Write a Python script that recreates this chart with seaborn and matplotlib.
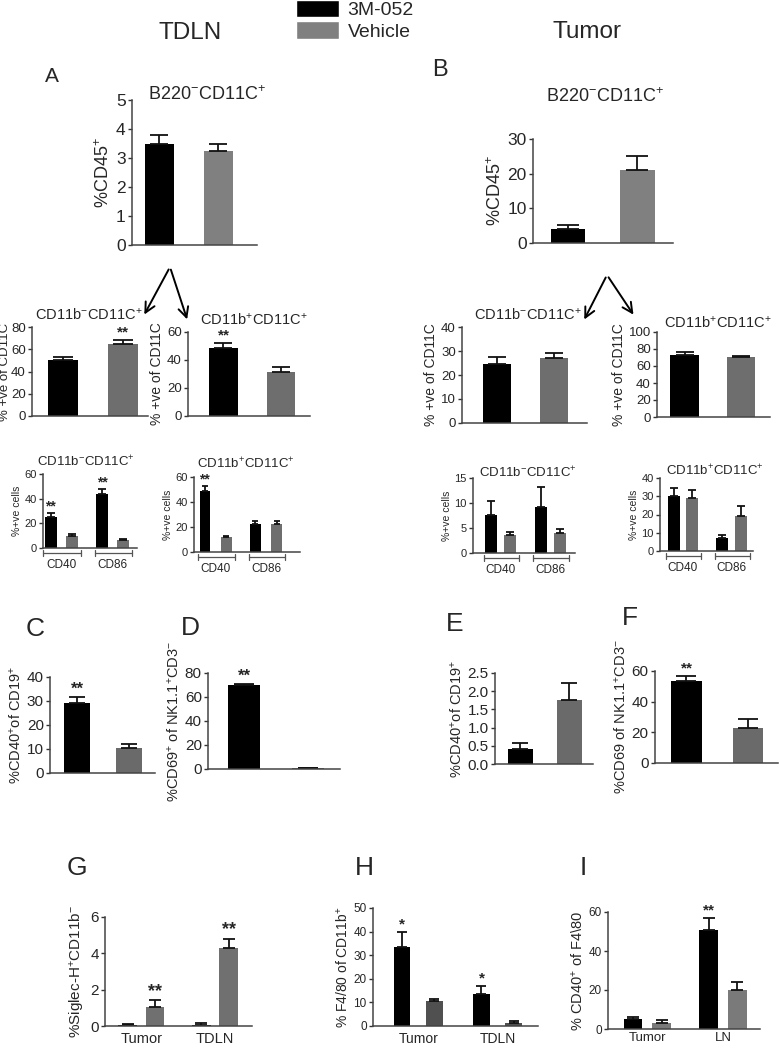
import numpy as np
import pandas as pd
import matplotlib
matplotlib.use('Agg')
import matplotlib.pyplot as plt
import seaborn as sns
from matplotlib.patches import FancyArrowPatch, Patch

W_PX, H_PX = 779, 1050

sns.set_style('ticks')
plt.rcParams['font.family'] = ['Liberation Sans', 'DejaVu Sans']
plt.rcParams['mathtext.fontset'] = 'custom'
plt.rcParams['mathtext.rm'] = 'Liberation Sans'
plt.rcParams['mathtext.it'] = 'Liberation Sans:italic'
plt.rcParams['mathtext.bf'] = 'Liberation Sans:bold'
plt.rcParams['mathtext.default'] = 'regular'

# ---- data (mean, top of SEM bar) ----
treatments = ['3M-052', 'Vehicle']
markers = ['CD40', 'CD86']
sites_h = ['Tumor', 'TDLN']
sites_i = ['Tumor', 'LN']

# A / B : B220-CD11C+ as % of CD45+
a_mean = [3.5, 3.25]
a_top = [3.8, 3.5]
a_star = ['', '']
b_mean = [4.0, 21.0]
b_top = [5.3, 25.0]
b_star = ['', '']

# CD11b-/+ subsets, % of CD11C
a1_mean = [50, 65]
a1_top = [53, 68]
a1_star = ['', '**']
a2_mean = [48.5, 31.5]
a2_top = [52, 35]
a2_star = ['**', '']
b1_mean = [24.5, 27]
b1_top = [27.5, 29.3]
b1_star = ['', '']
b2_mean = [73, 70]
b2_top = [76, 71.5]
b2_star = ['', '']

# CD40 / CD86 expression (%+ve cells)
a3_m3 = [25, 44]
a3_t3 = [28, 47.5]
a3_mv = [10, 6.5]
a3_tv = [11, 7.2]
a3_s3 = ['**', '**']
a3_sv = ['', '']
a4_m3 = [49, 22.5]
a4_t3 = [52.5, 24.5]
a4_mv = [12, 22.5]
a4_tv = [13, 24.5]
a4_s3 = ['**', '']
a4_sv = ['', '']
b3_m3 = [7.7, 9.2]
b3_t3 = [10.4, 13.2]
b3_mv = [3.7, 4.0]
b3_tv = [4.3, 4.8]
b3_s3 = ['', '']
b3_sv = ['', '']
b4_m3 = [30, 7]
b4_t3 = [34.5, 9]
b4_mv = [29, 19]
b4_tv = [33.5, 24.5]
b4_s3 = ['', '']
b4_sv = ['', '']

# C - F
c_mean = [29, 10.5]
c_top = [31.5, 12]
c_star = ['**', '']
d_mean = [70, 0.8]
d_top = [71, 1.0]
d_star = ['**', '']
e_mean = [0.4, 1.75]
e_top = [0.57, 2.22]
e_star = ['', '']
f_mean = [53.5, 23]
f_top = [57, 28.5]
f_star = ['**', '']

# G - I
g_m3 = [0.07, 0.07]
g_t3 = [0.12, 0.15]
g_mv = [1.07, 4.3]
g_tv = [1.42, 4.8]
g_s3 = ['', '']
g_sv = ['**', '**']
h_m3 = [33.5, 13.5]
h_t3 = [40, 17]
h_mv = [10.5, 1.3]
h_tv = [11.5, 2.0]
h_s3 = ['*', '*']
h_sv = ['', '']
i_m3 = [5, 51]
i_t3 = [6, 57]
i_mv = [3, 20]
i_tv = [4.5, 24]
i_s3 = ['', '**']
i_sv = ['', '']

# ---- layout (pixel boxes: y-axis x, x-axis right end, baseline y, y of ymax) ----
sup_p = '$^{+}$'
sup_m = '$^{-}$'
lay = {
    'A': dict(box=(132, 257, 245, 100), ymax=5, step=1, xlim=(-0.466, 1.653), width=0.49,
              tfs=12.5, lfs=13, sfs=12, ylabel='%CD45' + sup_p, gray='#808080'),
    'B': dict(box=(533, 673, 243, 139), ymax=30, step=10, xlim=(-0.504, 1.511), width=0.5,
              tfs=12.5, lfs=13, sfs=12, ylabel='%CD45' + sup_p, gray='#808080'),
    'A1': dict(box=(32, 148, 416, 327), ymax=80, step=20, xlim=(-0.517, 1.417), width=0.5,
               tfs=9.5, lfs=9.5, sfs=11, ylabel='% +ve of CD11C', gray='#6e6e6e', lpad=0.3),
    'A2': dict(box=(188, 310, 416, 332), ymax=60, step=20, xlim=(-0.617, 1.504), width=0.496,
               tfs=9.5, lfs=10, sfs=11, ylabel='% +ve of CD11C', gray='#6e6e6e'),
    'B1': dict(box=(462, 587, 423, 327), ymax=40, step=10, xlim=(-0.614, 1.579), width=0.49,
               tfs=9.5, lfs=10, sfs=11, ylabel='% +ve of CD11C', gray='#6e6e6e'),
    'B2': dict(box=(657, 770, 417, 332), ymax=100, step=20, xlim=(-0.487, 1.513), width=0.504,
               tfs=9.5, lfs=10, sfs=11, ylabel='% +ve of CD11C', gray='#6e6e6e'),
    'A3': dict(box=(43, 137, 548, 474), ymax=60, step=20, xlim=(-0.361, 1.473), width=0.83, gap=0.44,
               tfs=8, lfs=7.5, sfs=10, xfs=8.5, xpad=8, ylabel='%+ve cells', gray='#6e6e6e', bracket=True),
    'A4': dict(box=(194, 300, 552, 477), ymax=60, step=20, xlim=(-0.426, 1.673), width=0.85, gap=0.51,
               tfs=8, lfs=7.5, sfs=10, xfs=8.5, xpad=8, ylabel='%+ve cells', gray='#6e6e6e', bracket=True),
    'B3': dict(box=(473, 575, 553, 478), ymax=15, step=5, xlim=(-0.553, 1.497), width=0.754, gap=0.36,
               tfs=8, lfs=7.5, sfs=10, xfs=8.5, xpad=8, ylabel='%+ve cells', gray='#6e6e6e', bracket=True),
    'B4': dict(box=(660, 753, 551, 478), ymax=40, step=10, xlim=(-0.474, 1.443), width=0.763, gap=0.35,
               tfs=8, lfs=7.5, sfs=10, xfs=8.5, xpad=8, ylabel='%+ve cells', gray='#6e6e6e', bracket=True),
    'C': dict(box=(50, 155, 773, 677), ymax=40, step=10, xlim=(-0.519, 1.5), width=0.5,
              tfs=11, lfs=10.5, sfs=12, ylabel='%CD40' + sup_p + 'of CD19' + sup_p, gray='#6a6a6a'),
    'D': dict(box=(208, 340, 769, 673), ymax=80, step=20, xlim=(-0.5625, 1.5), width=0.5,
              tfs=11, lfs=10.5, sfs=12, ylabel='%CD69' + sup_p + ' of NK1.1' + sup_p + 'CD3' + sup_m,
              gray='#6a6a6a'),
    'E': dict(box=(495, 593, 764, 673), ymax=2.5, step=0.5, xlim=(-0.52, 1.48), width=0.51, dec=True,
              tfs=11, lfs=10.5, sfs=12, ylabel='%CD40' + sup_p + 'of CD19' + sup_p, gray='#6a6a6a'),
    'F': dict(box=(655, 778, 763, 671), ymax=60, step=20, xlim=(-0.512, 1.488), width=0.496,
              tfs=11, lfs=10.5, sfs=11, ylabel='%CD69 of NK1.1' + sup_p + 'CD3' + sup_m, gray='#6a6a6a'),
    'G': dict(box=(105, 252, 1026, 917), ymax=6, step=2, xlim=(-0.492, 1.502), width=0.739, gap=0.32,
              tfs=11, lfs=11, sfs=13, xfs=10.5, xpad=4, ylabel='%Siglec-H' + sup_p + 'CD11b' + sup_m,
              gray='#707070'),
    'H': dict(box=(373, 538, 1026, 908), ymax=50, step=10, xlim=(-0.571, 1.511), width=0.808, gap=0.485,
              tfs=8.5, lfs=10, sfs=11, xfs=10, xpad=4, ylabel='% F4/80 of CD11b' + sup_p, gray='#505050'),
    'I': dict(box=(608, 760, 1029, 912), ymax=60, step=20, xlim=(-0.518, 1.488), width=0.759, gap=0.357,
              tfs=8.5, lfs=10.5, sfs=11, xfs=9.5, xpad=2, ylabel='% CD40' + sup_p + ' of F4\\80', gray='#7a7a7a'),
}

fig = plt.figure(figsize=(W_PX / 100, H_PX / 100), dpi=100)


def fxy(x, y):
    return (x / W_PX, 1 - y / H_PX)


def make_ax(L):
    xl, xr, yb, yt = L['box']
    return fig.add_axes([xl / W_PX, 1 - yb / H_PX, (xr - xl) / W_PX, (yb - yt) / H_PX])


def style_ax(ax, L):
    ax.set_ylim(0, L['ymax'])
    ax.set_xlim(*L['xlim'])
    ticks = np.arange(0, L['ymax'] + L['step'] / 2, L['step'])
    ax.set_yticks(ticks)
    if L.get('dec'):
        ax.set_yticklabels([f'{t:.1f}' for t in ticks])
    else:
        ax.set_yticklabels([f'{t:g}' for t in ticks])
    ax.tick_params(axis='y', labelsize=L['tfs'], length=3, width=1, pad=1.5, color='#333333')
    ax.tick_params(axis='x', length=0, labelsize=L.get('xfs', 8), pad=L.get('xpad', 4))
    sns.despine(ax=ax)
    for s in ['left', 'bottom']:
        ax.spines[s].set_color('#444444')
        ax.spines[s].set_linewidth(1.1)
    ax.set_ylabel(L['ylabel'], fontsize=L['lfs'], labelpad=L.get('lpad', 2))
    ax.set_xlabel('')


def add_errors(ax, L, patches, means, tops, stars):
    xl, xr = L['box'][0], L['box'][1]
    upx = (xr - xl) / (L['xlim'][1] - L['xlim'][0])
    for p, m, t, s in zip(patches, means, tops, stars):
        cx = p.get_x() + p.get_width() / 2
        cap = p.get_width() * upx * 0.32 * 0.72
        ax.errorbar([cx], [m], yerr=[[0], [t - m]], fmt='none', ecolor='#111111',
                    elinewidth=1.3, capsize=cap, capthick=1.3, clip_on=False)
        if s:
            ax.text(cx, t + L['ymax'] * 0.005, s, ha='center', va='bottom',
                    fontsize=L['sfs'], fontweight='bold')


def pair_panel(key, means, tops, stars):
    L = lay[key]
    ax = make_ax(L)
    df = pd.DataFrame({'trt': treatments, 'val': means})
    sns.barplot(data=df, x='trt', y='val', hue='trt', palette=['black', L['gray']],
                width=L['width'], legend=False, errorbar=None, linewidth=0, ax=ax)
    style_ax(ax, L)
    ax.set_xticklabels([])
    patches = sorted(ax.patches, key=lambda p: p.get_x())
    add_errors(ax, L, patches, means, tops, stars)
    return ax


def group_panel(key, groups, m3, t3, mv, tv, s3, sv):
    L = lay[key]
    ax = make_ax(L)
    df = pd.DataFrame({'grp': [groups[0], groups[0], groups[1], groups[1]],
                       'trt': treatments * 2,
                       'val': [m3[0], mv[0], m3[1], mv[1]]})
    sns.barplot(data=df, x='grp', y='val', hue='trt', order=groups, hue_order=treatments,
                palette=['black', L['gray']], width=L['width'], gap=L['gap'],
                legend=False, errorbar=None, linewidth=0, ax=ax)
    style_ax(ax, L)
    patches = sorted(ax.patches, key=lambda p: p.get_x())
    add_errors(ax, L, patches, [m3[0], mv[0], m3[1], mv[1]], [t3[0], tv[0], t3[1], tv[1]],
               [s3[0], sv[0], s3[1], sv[1]])
    if L.get('bracket'):
        h_ax = L['box'][2] - L['box'][3]
        y0 = -5 / h_ax
        dy = 3 / h_ax
        tr = ax.get_xaxis_transform()
        for k in range(2):
            x0 = patches[2 * k].get_x()
            x1 = patches[2 * k + 1].get_x() + patches[2 * k + 1].get_width()
            x0 -= 0.03
            x1 += 0.06
            ax.plot([x0, x1], [y0, y0], color='#555555', lw=0.9, transform=tr, clip_on=False)
            for xe in (x0, x1):
                ax.plot([xe, xe], [y0 - dy, y0 + dy], color='#555555', lw=0.9, transform=tr, clip_on=False)
    return ax


pair_panel('A', a_mean, a_top, a_star)
pair_panel('B', b_mean, b_top, b_star)
pair_panel('A1', a1_mean, a1_top, a1_star)
pair_panel('A2', a2_mean, a2_top, a2_star)
pair_panel('B1', b1_mean, b1_top, b1_star)
pair_panel('B2', b2_mean, b2_top, b2_star)
group_panel('A3', markers, a3_m3, a3_t3, a3_mv, a3_tv, a3_s3, a3_sv)
group_panel('A4', markers, a4_m3, a4_t3, a4_mv, a4_tv, a4_s3, a4_sv)
group_panel('B3', markers, b3_m3, b3_t3, b3_mv, b3_tv, b3_s3, b3_sv)
group_panel('B4', markers, b4_m3, b4_t3, b4_mv, b4_tv, b4_s3, b4_sv)
pair_panel('C', c_mean, c_top, c_star)
pair_panel('D', d_mean, d_top, d_star)
pair_panel('E', e_mean, e_top, e_star)
pair_panel('F', f_mean, f_top, f_star)
group_panel('G', sites_h, g_m3, g_t3, g_mv, g_tv, g_s3, g_sv)
group_panel('H', sites_h, h_m3, h_t3, h_mv, h_tv, h_s3, h_sv)
group_panel('I', sites_i, i_m3, i_t3, i_mv, i_tv, i_s3, i_sv)

# headers, panel letters and subset titles
t_b220 = 'B220' + sup_m + 'CD11C' + sup_p
t_neg = 'CD11b' + sup_m + 'CD11C' + sup_p
t_pos = 'CD11b' + sup_p + 'CD11C' + sup_p
texts = [
    ('TDLN', 190, 33, 17.5), ('Tumor', 587, 32, 17.5),
    ('A', 52, 77, 15), ('B', 440, 70, 17),
    ('C', 35, 629, 19), ('D', 190, 628, 19), ('E', 455, 624, 19), ('F', 630, 618, 19),
    ('G', 77, 868, 19), ('H', 364, 868, 19), ('I', 583, 868, 19),
    (t_b220, 207, 95, 13), (t_b220, 605, 97, 13),
    (t_neg, 89, 315, 10.5), (t_pos, 254, 320, 10.5), (t_neg, 528, 315, 10.5), (t_pos, 718, 323, 10.5),
    (t_neg, 86, 462, 9.5), (t_pos, 246, 464, 9.5), (t_neg, 528, 473, 9.5), (t_pos, 715, 471, 9.5),
]
for s, x, y, fs in texts:
    fig.text(*fxy(x, y), s, ha='center', va='center', fontsize=fs)

# arrows from the parent population to the two subsets
arrows = [((170, 267), (143, 317)), ((170, 267), (188, 322)),
          ((607, 275), (583, 322)), ((607, 275), (635, 317))]
for a0, a1 in arrows:
    fig.add_artist(FancyArrowPatch(fxy(*a0), fxy(*a1), transform=fig.transFigure,
                                   arrowstyle='->', mutation_scale=18, lw=1.4, color='black'))

fig.legend(handles=[Patch(facecolor='black'), Patch(facecolor='#808080')], labels=treatments,
           loc='upper left', bbox_to_anchor=(296 / W_PX, 1.0), frameon=False, fontsize=14,
           handlelength=2.2, handleheight=1.0, handletextpad=0.45, labelspacing=0.1,
           borderpad=0, borderaxespad=0)

fig.savefig('out.png', dpi=100)
